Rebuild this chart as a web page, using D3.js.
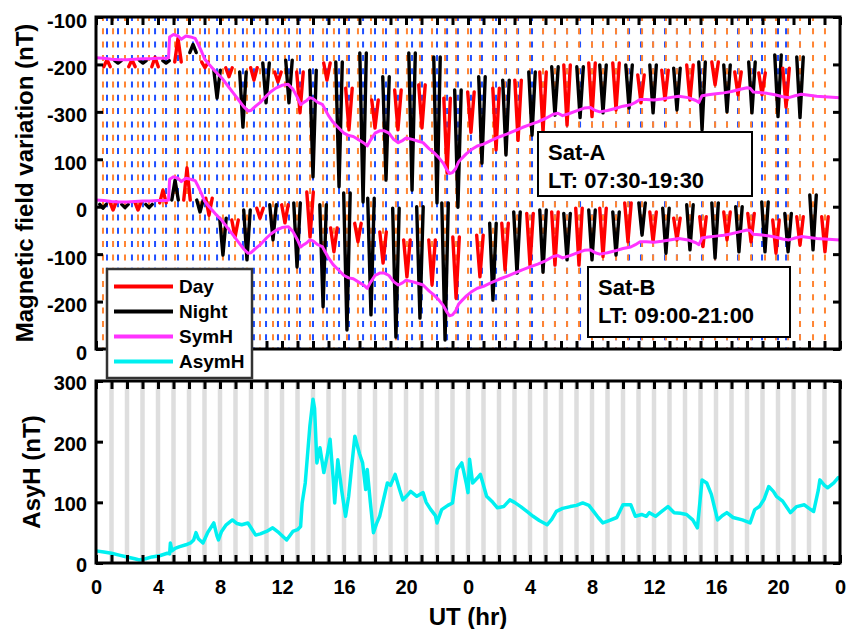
<!DOCTYPE html>
<html>
<head>
<meta charset="utf-8">
<script src="https://cdn.jsdelivr.net/npm/d3@7"></script>
<style>
  body { margin: 0; background: #fff; }
  svg { display: block; }
  text { font-family: "Liberation Sans", Arial, sans-serif; font-weight: bold; fill: #000; }
</style>
</head>
<body>
<svg id="chart" width="851" height="629"></svg>
<script>
// ---- axis ticks (UT hours over two days) ----
const hourTicks = [0, 4, 8, 12, 16, 20, 24, 28, 32, 36, 40, 44, 48];
const hourTickLabels = ["0", "4", "8", "12", "16", "20", "0", "4", "8", "12", "16", "20", "0"];
const stackTicks = [0, 100, 200, 300, 400, 500, 600, 700];
const stackTickLabels = ["0", "-200", "-100", "0", "100", "-300", "-200", "-100"];
const asyTicks = [0, 100, 200, 300];

// vertical placement of each stacked trace on the upper panel
const satAShift = 800;
const satBShift = 300;
const symhShiftA = 600;
const symhShiftB = 300;

// ---- Sat-A passes (UT hour of pass centre, D = day / N = night, edge value, extreme value, nT) ----
const satATime = [0.71, 1.42, 2.32, 3.03, 3.81, 4.52, 5.29, 6.26, 7.03, 7.81, 8.58, 9.48, 10.19, 10.97, 11.74,
  12.45, 13.16, 14.00, 14.90, 15.68, 16.32, 17.23, 18.00, 18.71, 19.48, 20.39, 21.03, 22.00, 22.65, 23.35,
  24.19, 24.90, 25.81, 26.45, 27.23, 28.13, 28.84, 29.61, 30.39, 31.23, 32.00, 32.71, 33.55, 34.39, 35.16,
  35.94, 36.71, 37.48, 38.32, 39.10, 39.94, 40.71, 41.42, 42.32, 42.97, 44.00, 44.52, 45.42];
const satAType = ["D", "N", "D", "N", "D", "N", "D", "N", "D", "N", "D", "N", "D", "N", "D",
  "N", "D", "N", "D", "N", "D", "N", "D", "N", "D", "N", "D", "N", "D", "N",
  "D", "N", "D", "N", "D", "N", "D", "N", "D", "N", "D", "N", "D", "N", "D",
  "N", "D", "N", "D", "N", "D", "N", "D", "N", "D", "N", "D", "N"];
const satAEdge = [-205, -192, -205, -192, -205, -192, -195, -175, -195, -212, -207, -216, -207, -197, -216,
  -191, -216, -212, -197, -195, -250, -176, -275, -226, -254, -176, -243, -184, -271, -254,
  -258, -226, -250, -233, -233, -216, -216, -205, -201, -205, -197, -201, -197, -201, -222,
  -201, -212, -208, -201, -195, -195, -201, -216, -195, -218, -180, -208, -184];
const satAPeak = [-190, -197, -190, -197, -185, -197, -145, -158, -207, -271, -226, -332, -233, -281, -237,
  -281, -302, -437, -233, -458, -338, -490, -334, -444, -338, -465, -334, -492, -429, -501,
  -343, -408, -380, -391, -360, -349, -343, -307, -328, -312, -310, -302, -296, -292, -281,
  -302, -275, -296, -275, -338, -243, -300, -264, -302, -264, -310, -290, -312];

// ---- Sat-B passes ----
const satBTime = [0.45, 1.10, 1.87, 2.71, 3.42, 4.32, 5.10, 5.87, 6.71, 7.29, 8.19, 8.97, 9.74, 10.58, 11.42,
  12.19, 12.97, 13.81, 14.65, 15.35, 16.19, 16.90, 17.74, 18.52, 19.35, 20.06, 20.90, 21.68, 22.52, 23.23,
  24.00, 24.77, 25.61, 26.39, 27.16, 28.00, 28.84, 29.61, 30.39, 31.16, 32.00, 32.71, 33.55, 34.32, 35.23,
  35.94, 36.77, 37.48, 38.32, 39.16, 39.94, 40.71, 41.48, 42.26, 43.16, 43.87, 44.65, 45.42, 46.26, 47.03];
const satBType = ["N", "D", "N", "D", "N", "D", "N", "D", "N", "D", "N", "D", "N", "D", "N",
  "D", "N", "D", "N", "D", "N", "D", "N", "D", "N", "D", "N", "D", "N", "D",
  "N", "D", "N", "D", "N", "D", "N", "D", "N", "D", "N", "D", "N", "D", "N",
  "D", "N", "D", "N", "D", "N", "D", "N", "D", "N", "D", "N", "D", "N", "D"];
const satBEdge = [5, 10, 5, 10, 5, 8, 14, 14, 14, 18, -24, -28, -7, -3, 4,
  4, 8, 31, 4, -45, 29, -35, 18, -53, -3, -70, 0, -70, 8, -64,
  null, -60, -35, -35, -11, -14, -7, -11, -14, -3, -7, -3, -11, 8, 8,
  -11, -3, -24, 4, -21, 8, -11, 0, -14, 10, -28, -14, -21, 25, -21];
const satBPeak = [-3, -7, -2, -7, -2, 35, 56, 82, -11, -18, -102, -64, -112, -24, -70,
  -34, -127, -64, -211, -95, -260, -74, -228, -119, -275, -148, -235, -165, -281, -193,
  null, -148, -197, -133, -140, -123, -138, -123, -112, -123, -112, -105, -102, -74, -60,
  -74, -98, -70, -91, -84, -108, -70, -95, -74, -95, -98, -95, -81, -91, -95];

// ---- SymH index (UT hour, nT) ----
const symhTime = [0, 0.5, 1.0, 1.5, 2.0, 2.5, 3.0, 3.5, 4.0, 4.5, 4.68, 4.75, 5.0, 5.3, 5.5, 5.8, 6.1, 6.4, 6.6, 6.8,
  7.0, 7.3, 7.7, 8.1, 8.5, 8.9, 9.2, 9.5, 9.8, 10.0, 10.3, 10.6, 11.0, 11.3, 11.6, 12.0, 12.4, 12.7, 13.0, 13.2,
  13.4, 13.6, 13.8, 14.0, 14.3, 14.6, 15.0, 15.3, 15.6, 16.0, 16.3, 16.6, 17.0, 17.3, 17.5, 17.7, 18.0, 18.3, 18.6, 18.9,
  19.2, 19.5, 19.8, 20.0, 20.4, 20.8, 21.1, 21.5, 21.8, 22.1, 22.4, 22.6, 22.8, 23.0, 23.2, 23.4, 23.6, 23.9, 24.2, 24.6,
  25.0, 25.5, 26.0, 26.5, 27.0, 27.5, 28.0, 28.5, 29.0, 29.5, 29.8, 30.1, 30.5, 31.0, 31.5, 31.9, 32.2, 32.5, 33.0, 33.5,
  34.0, 34.5, 34.8, 35.1, 35.5, 36.0, 36.5, 37.0, 37.6, 38.2, 38.7, 38.9, 39.1, 39.5, 40.0, 40.5, 41.0, 41.5, 42.0, 42.2,
  42.4, 42.8, 43.3, 43.8, 44.3, 44.7, 45.1, 45.5, 46.0, 46.5, 47.0, 47.5, 48.0];
const symhValue = [14, 13, 11, 10, 10, 11, 12, 12, 13, 13, 14, 58, 63, 60, 53, 60, 58, 55, 42, 28,
  12, 0, -15, -28, -45, -62, -75, -88, -98, -97, -88, -80, -66, -57, -50, -44, -42, -52, -70, -85,
  -80, -76, -70, -72, -80, -84, -108, -122, -132, -145, -150, -152, -160, -166, -172, -160, -145, -140, -140, -145,
  -158, -165, -160, -155, -158, -162, -165, -178, -186, -196, -208, -220, -230, -228, -220, -205, -198, -188, -180, -172,
  -168, -160, -153, -147, -140, -133, -127, -121, -114, -105, -103, -108, -104, -98, -92, -91, -97, -100, -97, -93,
  -88, -85, -80, -74, -74, -75, -73, -70, -67, -70, -76, -80, -66, -64, -62, -60, -57, -53, -49, -50,
  -58, -59, -61, -64, -68, -70, -66, -63, -65, -67, -68, -69, -70];

// ---- AsymH index (UT hour, nT) ----
const asymhTime = [0, 0.5, 1.0, 1.5, 2.0, 2.5, 2.8, 3.2, 3.6, 4.1, 4.6, 4.75, 4.8, 4.9, 5.1, 5.4, 5.8, 6.1, 6.3, 6.45,
  6.6, 6.9, 7.2, 7.6, 7.8, 7.9, 8.1, 8.4, 8.8, 9.1, 9.4, 9.8, 10.0, 10.3, 10.6, 11.0, 11.4, 11.8, 12.3, 12.5,
  12.7, 13.0, 13.2, 13.3, 13.5, 13.8, 14.0, 14.1, 14.25, 14.45, 14.7, 14.9, 15.1, 15.3, 15.4, 15.6, 15.85, 16.1, 16.3, 16.5,
  16.7, 17.0, 17.2, 17.4, 17.5, 17.7, 17.9, 18.1, 18.3, 18.6, 18.8, 19.0, 19.3, 19.6, 19.8, 20.1, 20.3, 20.7, 21.1, 21.3,
  21.6, 21.9, 22.0, 22.3, 22.7, 23.0, 23.3, 23.6, 23.9, 24.0, 24.1, 24.3, 24.6, 24.8, 25.2, 25.6, 25.9, 26.3, 26.7, 27.0,
  27.4, 27.8, 28.2, 28.6, 29.1, 29.4, 29.7, 30.1, 30.6, 31.0, 31.4, 31.8, 32.1, 32.4, 32.7, 33.1, 33.6, 34.0, 34.5, 34.8,
  35.2, 35.5, 35.7, 36.1, 36.5, 36.9, 37.3, 37.7, 38.1, 38.5, 38.8, 39.1, 39.4, 39.7, 40.1, 40.4, 40.7, 41.1, 41.7, 42.2,
  42.5, 42.8, 43.1, 43.4, 43.7, 43.9, 44.3, 44.8, 45.2, 45.7, 46.0, 46.3, 46.6, 46.7, 47.0, 47.2, 47.6, 47.9, 48.0];
const asymhValue = [20, 18, 16, 13, 10, 7, 5, 7, 10, 12, 16, 15, 33, 20, 24, 27, 30, 33, 38, 50,
  40, 33, 50, 66, 45, 38, 52, 63, 71, 65, 63, 66, 58, 46, 48, 52, 58, 50, 38, 45,
  52, 55, 60, 99, 132, 226, 270, 255, 165, 190, 149, 175, 204, 140, 99, 170, 120, 77, 110, 160,
  209, 180, 165, 121, 154, 100, 50, 65, 77, 110, 132, 128, 146, 120, 104, 112, 118, 110, 116, 100,
  88, 78, 66, 88, 95, 99, 154, 165, 130, 116, 171, 132, 140, 146, 110, 100, 91, 93, 104, 100,
  93, 85, 77, 70, 63, 72, 85, 90, 93, 95, 99, 95, 85, 75, 66, 70, 75, 96, 96, 77,
  80, 77, 83, 77, 85, 93, 83, 82, 80, 71, 58, 137, 132, 113, 71, 78, 83, 75, 71, 66,
  88, 93, 105, 126, 118, 110, 102, 83, 93, 96, 90, 85, 120, 137, 128, 124, 132, 141, 140];

// ---- colours ----
const dayColor = "#ff0000";
const nightColor = "#000000";
const symhColor = "#ff33ff";
const asymhColor = "#00f0f0";
const satALineColor = "#1f4fff";
const satBLineColor = "#ff8533";

// ---- layout ----
const svg = d3.select("#chart");
const x = d3.scaleLinear().domain([0, 48]).range([96, 840]);
const yStack = d3.scaleLinear().domain([0, 700]).range([349, 17]);
const yAsy = d3.scaleLinear().domain([0, 300]).range([563, 381]);
const halfWidth = 0.21; // hours either side of a pass centre

// ===== upper panel =====
const upper = svg.append("g");

// pass markers: Sat-A (blue) and Sat-B (orange) dashed verticals
function passMarkers(times, color) {
  upper.append("g").selectAll("line").data(times).join("line")
    .attr("x1", d => x(d)).attr("x2", d => x(d))
    .attr("y1", yStack(700)).attr("y2", yStack(0))
    .attr("stroke", color).attr("stroke-width", 2)
    .attr("stroke-dasharray", "6,7.3").attr("stroke-dashoffset", 2);
}
passMarkers(satATime, satALineColor);
passMarkers(satBTime, satBLineColor);

// pass profiles drawn as V (or inverted V) segments
function passes(times, types, edge, peak, shift) {
  const rows = times.map((t, i) => ({ t, type: types[i], e: edge[i], p: peak[i] }))
    .filter(r => r.e !== null && r.p !== null);
  const line = d3.line().x(d => x(d[0])).y(d => yStack(d[1] + shift));
  upper.append("g").selectAll("path").data(rows).join("path")
    .attr("d", r => line([[r.t - halfWidth, r.e], [r.t, r.p], [r.t + halfWidth, r.e]]))
    .attr("fill", "none")
    .attr("stroke", r => r.type === "D" ? dayColor : nightColor)
    .attr("stroke-width", 3.4)
    .attr("stroke-linejoin", "round")
    .attr("stroke-linecap", "round");
}
passes(satATime, satAType, satAEdge, satAPeak, satAShift);
passes(satBTime, satBType, satBEdge, satBPeak, satBShift);

// SymH, repeated on both stacked traces
const symh = symhTime.map((t, i) => [t, symhValue[i]]);
[symhShiftA, symhShiftB].forEach(shift => {
  upper.append("path")
    .datum(symh)
    .attr("d", d3.line().x(d => x(d[0])).y(d => yStack(d[1] + shift)))
    .attr("fill", "none").attr("stroke", symhColor).attr("stroke-width", 3)
    .attr("stroke-linejoin", "round");
});

// axes of the upper panel
const hourly = d3.range(0, 49);
upper.append("g").attr("transform", "translate(0,17)")
  .call(d3.axisTop(x).tickValues(hourly).tickSize(-8).tickFormat(""));
upper.append("g").attr("transform", "translate(0,349)")
  .call(d3.axisBottom(x).tickValues(hourly).tickSize(-8).tickFormat(""));
const yLeft = upper.append("g").attr("transform", "translate(96,0)")
  .call(d3.axisLeft(yStack).tickValues(stackTicks).tickSize(-7).tickPadding(9)
    .tickFormat((d, i) => stackTickLabels[i]));
yLeft.selectAll("text").attr("dy", "0.5em");
upper.append("g").attr("transform", "translate(840,0)")
  .call(d3.axisRight(yStack).tickValues(stackTicks).tickSize(-7).tickFormat(""));
upper.append("rect").attr("x", 96).attr("y", 17).attr("width", 744).attr("height", 332)
  .attr("fill", "none").attr("stroke", "#000").attr("stroke-width", 3);

// ===== lower panel =====
const lower = svg.append("g");
lower.append("g").selectAll("line").data(d3.range(1, 48)).join("line")
  .attr("x1", d => x(d)).attr("x2", d => x(d))
  .attr("y1", yAsy(300)).attr("y2", yAsy(0))
  .attr("stroke", "#dedede").attr("stroke-width", 4.5);

lower.append("path")
  .datum(asymhTime.map((t, i) => [t, asymhValue[i]]))
  .attr("d", d3.line().x(d => x(d[0])).y(d => yAsy(d[1])))
  .attr("fill", "none").attr("stroke", asymhColor).attr("stroke-width", 3.5)
  .attr("stroke-linejoin", "round");

lower.append("g").attr("transform", "translate(0,381)")
  .call(d3.axisTop(x).tickValues(hourly).tickSize(-8).tickFormat(""));
lower.append("g").attr("transform", "translate(0,563)")
  .call(d3.axisBottom(x).tickValues(hourly).tickSize(-8).tickPadding(17)
    .tickFormat(d => d % 4 === 0 ? hourTickLabels[hourTicks.indexOf(d)] : ""));
const ya = lower.append("g").attr("transform", "translate(96,0)")
  .call(d3.axisLeft(yAsy).tickValues(asyTicks).tickSize(-7).tickPadding(9));
ya.selectAll("text").attr("dy", "0.42em");
lower.append("g").attr("transform", "translate(840,0)")
  .call(d3.axisRight(yAsy).tickValues(asyTicks).tickSize(-7).tickFormat(""));
lower.append("rect").attr("x", 96).attr("y", 381).attr("width", 744).attr("height", 182)
  .attr("fill", "none").attr("stroke", "#000").attr("stroke-width", 3);

// shared axis styling
svg.selectAll(".domain").remove();
svg.selectAll(".tick line").attr("stroke", "#000").attr("stroke-width", 3);
svg.selectAll(".tick text").style("font-size", "20px").style("font-weight", "bold")
  .style("font-family", '"Liberation Sans", Arial, sans-serif').attr("fill", "#000");

// axis titles
svg.append("text").attr("transform", "translate(33,183) rotate(-90)")
  .attr("text-anchor", "middle").style("font-size", "24px").text("Magnetic field variation (nT)");
svg.append("text").attr("transform", "translate(40,472) rotate(-90)")
  .attr("text-anchor", "middle").style("font-size", "24px").text("AsyH (nT)");
svg.append("text").attr("x", 468).attr("y", 625)
  .attr("text-anchor", "middle").style("font-size", "24px").text("UT (hr)");

// satellite annotation boxes
function infoBox(x0, y0, w, h, lines, baselines) {
  const g = svg.append("g");
  g.append("rect").attr("x", x0).attr("y", y0).attr("width", w).attr("height", h)
    .attr("fill", "#fff").attr("stroke", "#000").attr("stroke-width", 2);
  lines.forEach((s, i) => g.append("text").attr("x", x0 + 10).attr("y", baselines[i])
    .style("font-size", "22px").text(s));
}
infoBox(538, 132, 214, 64, ["Sat-A", "LT: 07:30-19:30"], [160, 188]);
infoBox(588, 267, 202, 70, ["Sat-B", "LT: 09:00-21:00"], [295, 323]);

// legend
const legendItems = [["Day", dayColor], ["Night", nightColor], ["SymH", symhColor], ["AsymH", asymhColor]];
const lg = svg.append("g");
lg.append("rect").attr("x", 107).attr("y", 269).attr("width", 145).attr("height", 109)
  .attr("fill", "#fff").attr("stroke", "#333").attr("stroke-width", 2.5);
legendItems.forEach(([name, color], i) => {
  const yy = 286.5 + i * 25;
  lg.append("line").attr("x1", 114).attr("x2", 173).attr("y1", yy).attr("y2", yy)
    .attr("stroke", color).attr("stroke-width", 4);
  lg.append("text").attr("x", 179).attr("y", yy + 6.8).style("font-size", "19px").text(name);
});
</script>
</body>
</html>
